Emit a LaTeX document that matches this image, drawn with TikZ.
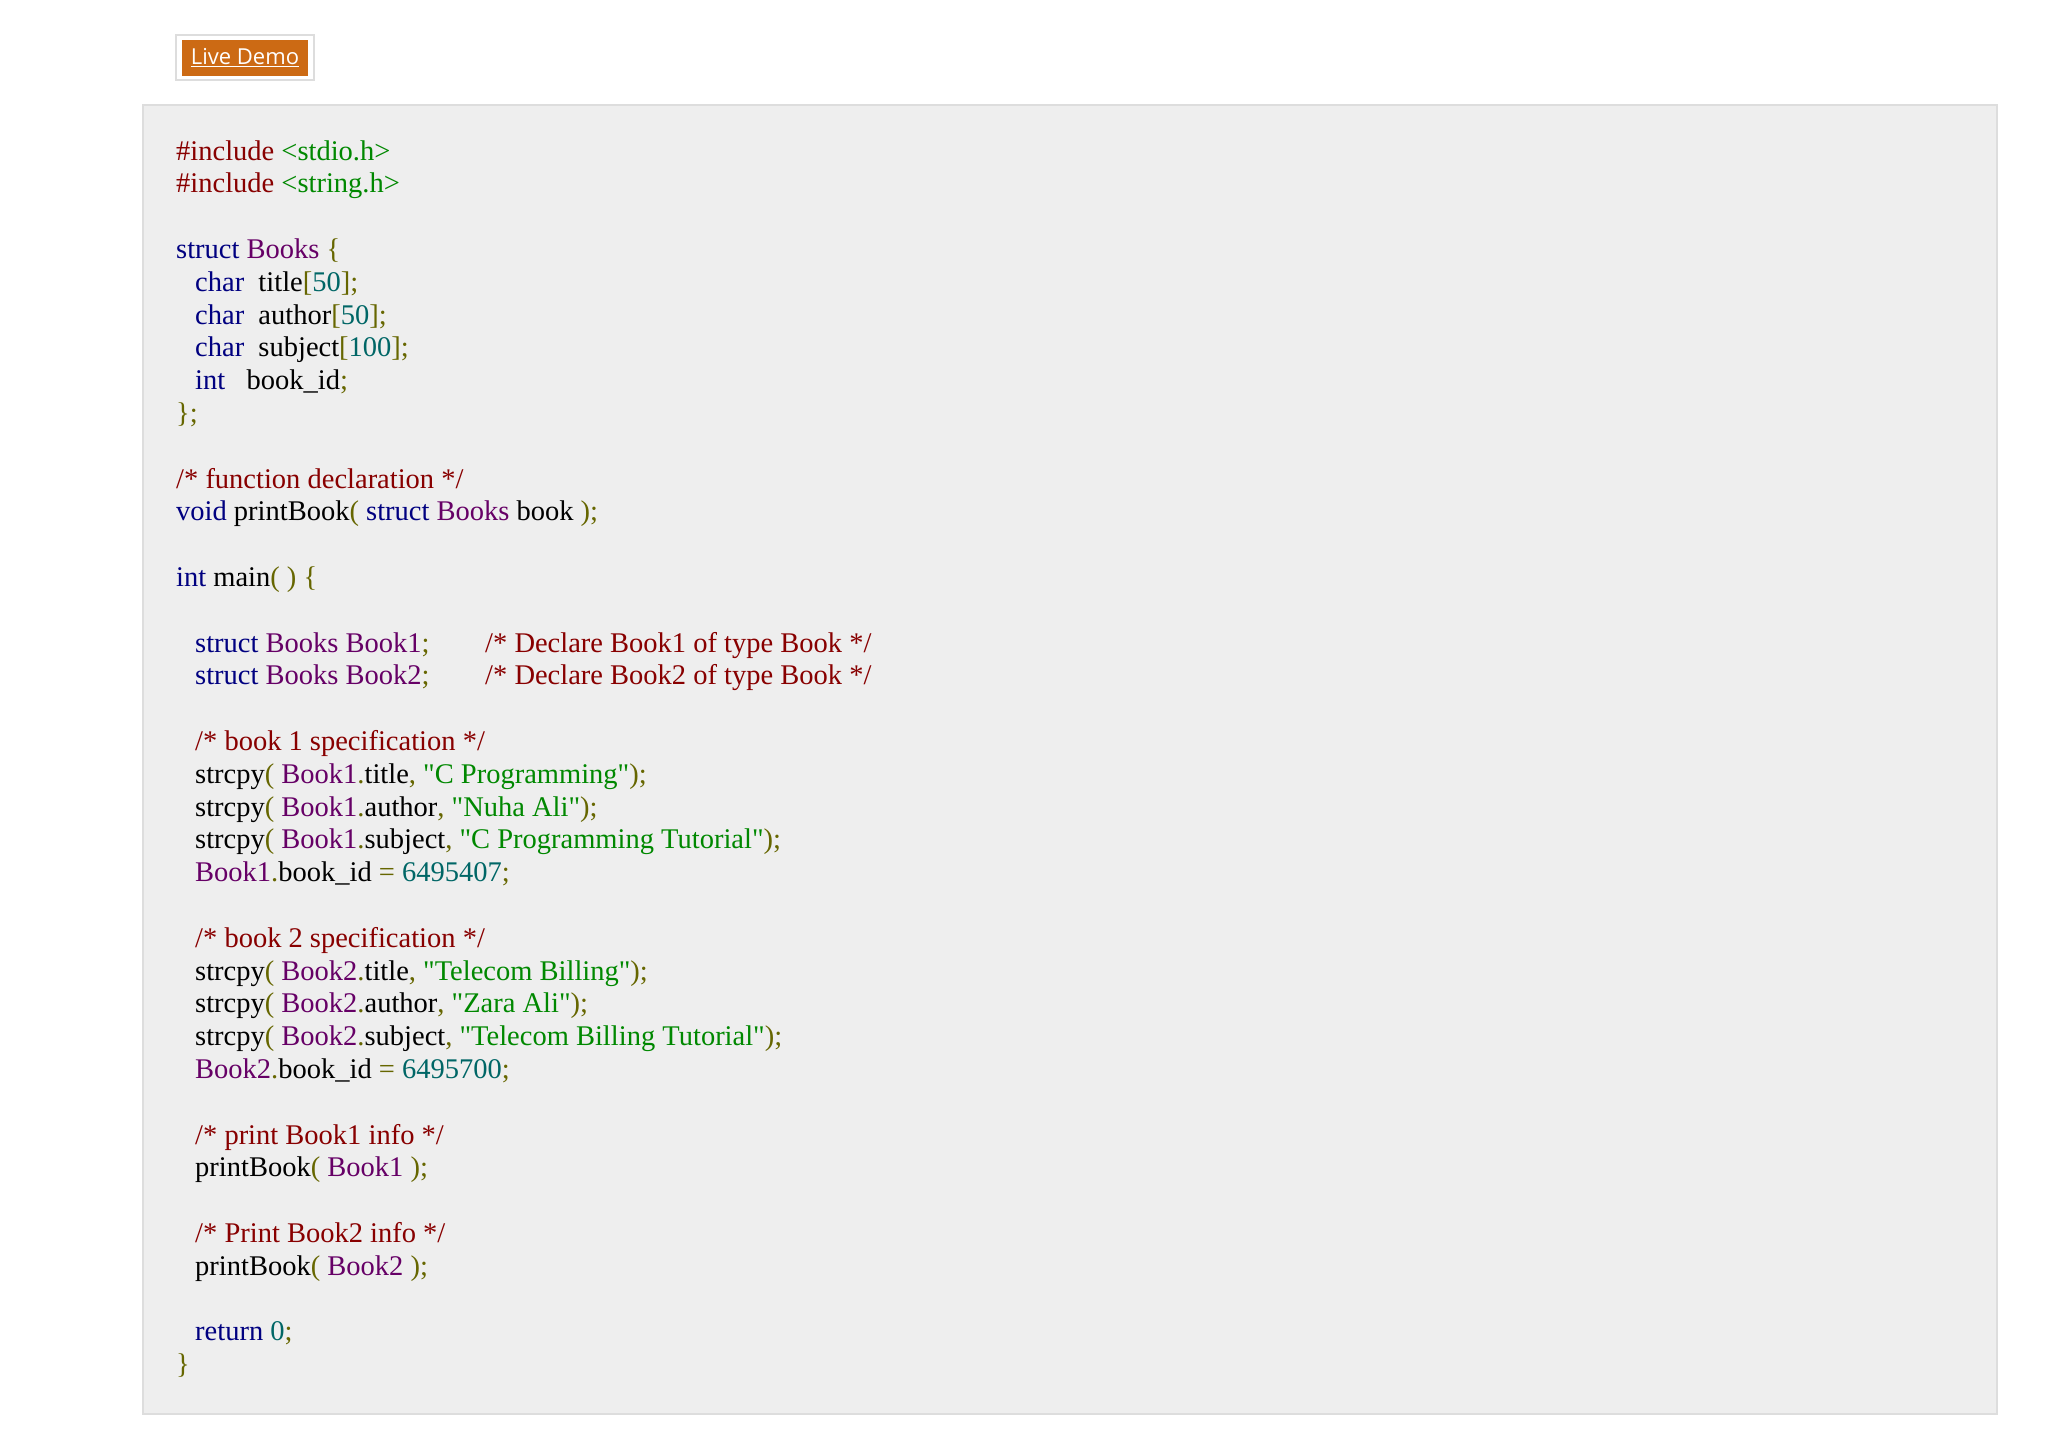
\documentclass[tikz,border=0pt]{standalone}
\usepackage{fontspec}
\setmainfont{Liberation Serif}[Ligatures=TeXOff]
\newfontfamily\btnfont{Open Sans}
\usepackage{xcolor}
\definecolor{ckw}{HTML}{000080}
\definecolor{cty}{HTML}{660066}
\definecolor{cpu}{HTML}{666600}
\definecolor{cstr}{HTML}{008800}
\definecolor{cnum}{HTML}{006666}
\definecolor{ccm}{HTML}{880000}
\definecolor{cbg}{HTML}{EEEEEE}
\definecolor{cbd}{HTML}{DDDDDD}
\definecolor{cbtn}{HTML}{CC6A14}
\newcommand{\KW}[1]{\textcolor{ckw}{#1}}
\newcommand{\TY}[1]{\textcolor{cty}{#1}}
\newcommand{\PU}[1]{\textcolor{cpu}{#1}}
\newcommand{\STR}[1]{\textcolor{cstr}{"#1"}}
\newcommand{\HD}[1]{\textcolor{cstr}{#1}}
\newcommand{\NUM}[1]{\textcolor{cnum}{#1}}
\newcommand{\CM}[1]{\textcolor{ccm}{#1}}
\newcommand{\cl}[3]{\node[codeline] (l#1) at (#2pt,{-(160+32.8*#1)*1pt}) {#3};}
\begin{document}
\begin{tikzpicture}[x=1pt,y=1pt,
  codeline/.style={anchor=base west,inner sep=0pt,font=\fontsize{28.5}{32}\selectfont,text=black}]
\useasboundingbox[fill=white] (0,0) rectangle (2048,-1448);
\fill[cbg,draw=cbd,line width=1.5pt] (143,-105) rectangle (1997,-1414);
\draw[cbd,line width=1.5pt,fill=white] (176,-35) rectangle (314,-80);
\node[fill=cbtn,minimum width=126pt,minimum height=36pt,inner sep=0pt,text=white,font=\btnfont\fontsize{22}{26}\selectfont] (btn) at (245,-57.5) {\underline{Live Demo}};
\def\a{176}\def\b{195}
\cl{0}{\a}{\CM{\#include} \HD{<stdio.h>}}
\cl{1}{\a}{\CM{\#include} \HD{<string.h>}}
\cl{3}{\a}{\KW{struct} \TY{Books} \PU{\{}}
\cl{4}{\b}{\KW{char}\ \ title\PU{[}\NUM{50}\PU{];}}
\cl{5}{\b}{\KW{char}\ \ author\PU{[}\NUM{50}\PU{];}}
\cl{6}{\b}{\KW{char}\ \ subject\PU{[}\NUM{100}\PU{];}}
\cl{7}{\b}{\KW{int}\ \ \ book\_id\PU{;}}
\cl{8}{\a}{\PU{\};}}
\cl{10}{\a}{\CM{/* function declaration */}}
\cl{11}{\a}{\KW{void} printBook\PU{(} \KW{struct} \TY{Books} book \PU{);}}
\cl{13}{\a}{\KW{int} main\PU{( ) \{}}
\cl{15}{\b}{\KW{struct} \TY{Books} \TY{Book1}\PU{;}}
\node[codeline] (c15) at (485pt,{-(160+32.8*15)*1pt}) {\CM{/* Declare Book1 of type Book */}};
\cl{16}{\b}{\KW{struct} \TY{Books} \TY{Book2}\PU{;}}
\node[codeline] (c16) at (485pt,{-(160+32.8*16)*1pt}) {\CM{/* Declare Book2 of type Book */}};
\cl{18}{\b}{\CM{/* book 1 specification */}}
\cl{19}{\b}{strcpy\PU{(} \TY{Book1}\PU{.}title\PU{,} \STR{C Programming}\PU{);}}
\cl{20}{\b}{strcpy\PU{(} \TY{Book1}\PU{.}author\PU{,} \STR{Nuha Ali}\PU{);}}
\cl{21}{\b}{strcpy\PU{(} \TY{Book1}\PU{.}subject\PU{,} \STR{C Programming Tutorial}\PU{);}}
\cl{22}{\b}{\TY{Book1}\PU{.}book\_id \PU{=} \NUM{6495407}\PU{;}}
\cl{24}{\b}{\CM{/* book 2 specification */}}
\cl{25}{\b}{strcpy\PU{(} \TY{Book2}\PU{.}title\PU{,} \STR{Telecom Billing}\PU{);}}
\cl{26}{\b}{strcpy\PU{(} \TY{Book2}\PU{.}author\PU{,} \STR{Zara Ali}\PU{);}}
\cl{27}{\b}{strcpy\PU{(} \TY{Book2}\PU{.}subject\PU{,} \STR{Telecom Billing Tutorial}\PU{);}}
\cl{28}{\b}{\TY{Book2}\PU{.}book\_id \PU{=} \NUM{6495700}\PU{;}}
\cl{30}{\b}{\CM{/* print Book1 info */}}
\cl{31}{\b}{printBook\PU{(} \TY{Book1} \PU{);}}
\cl{33}{\b}{\CM{/* Print Book2 info */}}
\cl{34}{\b}{printBook\PU{(} \TY{Book2} \PU{);}}
\cl{36}{\b}{\KW{return} \NUM{0}\PU{;}}
\cl{37}{\a}{\PU{\}}}
\end{tikzpicture}
\end{document}
